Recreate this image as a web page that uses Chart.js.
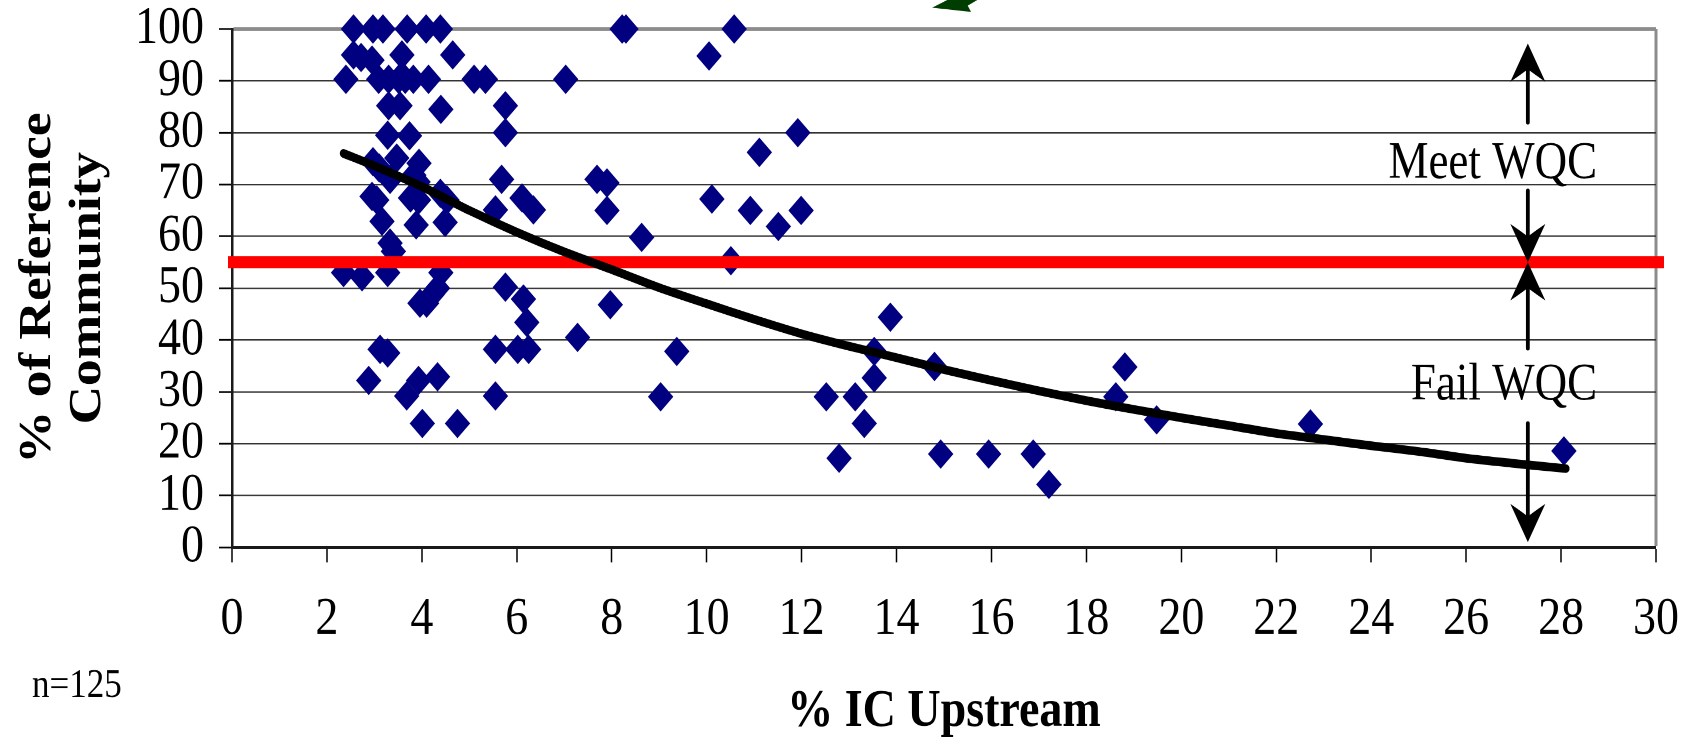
<!DOCTYPE html>
<html>
<head>
<meta charset="utf-8">
<script src="https://cdn.jsdelivr.net/npm/chart.js@4.4.1/dist/chart.umd.min.js"></script>
<style>
  html, body { margin: 0; padding: 0; background: #fff; overflow: hidden; }
  canvas { display: block; }
</style>
</head>
<body>
<canvas id="c" width="1687" height="639" style="width:1687px;height:741px;"></canvas>
<script>
// ---- data ----
const SCATTER_X = [
  2.56, 2.97, 3.18, 3.69, 4.09, 4.39, 8.22, 8.30, 10.58,
  2.56, 2.72, 2.95, 3.58, 4.65, 10.05,
  2.40, 3.09, 3.30, 3.51, 3.65, 3.82, 4.14, 5.10, 5.34, 7.03,
  3.30, 3.54, 4.40, 5.76,
  3.28, 3.74, 5.76, 11.92,
  11.11,
  2.97, 3.10, 3.47, 3.94, 3.83, 3.33, 3.92, 5.68, 7.69, 7.90,
  2.95, 3.05, 3.76, 3.93, 4.39, 4.53, 6.11, 10.11, 5.55, 6.35, 7.90, 10.92, 11.99,
  3.16, 3.88, 4.49, 11.51,
  8.63,
  3.33, 3.40,
  10.51,
  2.35, 2.74, 3.28, 4.40,
  4.33, 4.22, 4.10, 3.96, 5.76, 6.14, 7.97,
  6.21,
  7.28,
  3.12, 3.28, 5.55, 6.02, 6.25, 9.37, 13.53,
  13.87,
  2.88, 3.93, 4.33, 13.53, 14.80, 18.81,
  3.68, 5.55, 9.03, 12.52, 13.13, 18.62,
  4.01, 4.75, 13.32, 19.48, 22.72,
  12.79, 14.93, 15.94, 16.88, 28.06,
  17.21
];
const SCATTER_Y = [
  100, 100, 100, 100, 100, 100, 100, 100, 100,
  95, 94.5, 94, 95, 95, 94.8,
  90.3, 90.3, 90.3, 90.3, 90.3, 90.3, 90.3, 90.3, 90.3, 90.3,
  85.2, 85.2, 84.5, 85.2,
  79.5, 79.4, 80, 80,
  76.2,
  74.4, 73.2, 75.1, 74.1, 71.8, 71, 70.5, 71, 71, 70.3,
  67.7, 67.0, 67.4, 67.0, 68.3, 67.0, 67.4, 67.2, 65.1, 65.1, 65, 65, 65,
  62.9, 62.2, 62.7, 61.9,
  59.8,
  58.7, 57.1,
  55.3,
  53, 52.2, 53, 53,
  50, 48.8, 47.1, 47.1, 50.2, 47.9, 46.8,
  43.4,
  40.5,
  38.2, 37.5, 38.2, 38.2, 38.2, 37.8, 37.8,
  44.4,
  32.2, 32.2, 32.9, 32.7, 34.9, 34.8,
  29.2, 29.2, 29.05, 29.05, 29.05, 29.05,
  23.9, 23.9, 23.9, 24.6, 23.8,
  17.2, 18, 18, 18, 18.6,
  12.15
];
const TREND_X = [2.35, 3, 4, 5, 6, 7, 8, 9, 10, 11, 12, 13, 14, 15, 16, 17, 18, 19, 20, 21, 22, 23, 24, 25, 26, 27, 28.1];
const TREND_Y = [76.0, 73.6, 69.6, 65.0, 60.8, 57.0, 53.6, 50.1, 47.0, 44.0, 41.2, 38.8, 36.6, 34.3, 32.2, 30.2, 28.3, 26.6, 25.0, 23.5, 22.0, 20.8, 19.6, 18.5, 17.2, 16.2, 15.2];
const THRESHOLD = 55;               // red WQC line
const ARROW_X = 27.3;               // x position of the arrows
const ARROWS_FROM = [82, 68.8, 38.4, 23.9];
const ARROWS_TO   = [97.2, 55, 55, 1.0];
const LABEL_TEXT = ['Meet WQC', 'Fail WQC'];
const LABEL_X = 28.76;
const LABEL_Y = [71.3, 28.5];
const N_TEXT = 'n=125';
const X_TITLE = '% IC Upstream';
const Y_TITLE = ['% of Reference', 'Community'];
const GREEN_X = [14.75, 15.09, 15.72, 15.50, 15.57];
const GREEN_Y = [104.1, 105.7, 105.7, 104.5, 103.3];

const FONT = 'Liberation Serif, "Times New Roman", serif';

const scatterData = SCATTER_X.map((x, i) => ({ x: x, y: SCATTER_Y[i] }));
const trendData = TREND_X.map((x, i) => ({ x: x, y: TREND_Y[i] }));

function drawArrow(ctx, x, yFrom, yTo) {
  const dir = yTo < yFrom ? 1 : -1;   // 1 => arrow points up (towards smaller pixel y)
  const headLen = 33, half = 17.5, notch = 22;
  ctx.beginPath();
  ctx.moveTo(x, yFrom);
  ctx.lineTo(x, yTo + dir * notch);
  ctx.lineWidth = 3.8;
  ctx.strokeStyle = '#000';
  ctx.lineCap = 'round';
  ctx.stroke();
  ctx.beginPath();
  ctx.moveTo(x, yTo);
  ctx.lineTo(x - half, yTo + dir * headLen);
  ctx.quadraticCurveTo(x - 4, yTo + dir * (notch + 3), x, yTo + dir * notch);
  ctx.quadraticCurveTo(x + 4, yTo + dir * (notch + 3), x + half, yTo + dir * headLen);
  ctx.closePath();
  ctx.fillStyle = '#000';
  ctx.fill();
}

const annotations = {
  id: 'annotations',
  afterDatasetDraw(chart, args) {
    if (args.index !== 0) return;
    const ctx = chart.ctx, y = chart.scales.y.getPixelForValue(THRESHOLD);
    const area = chart.chartArea;
    ctx.save();
    ctx.beginPath();
    ctx.moveTo(area.left - 4, y);
    ctx.lineTo(area.right + 8, y);
    ctx.lineWidth = 10.3;
    ctx.strokeStyle = '#ff0000';
    ctx.lineCap = 'butt';
    ctx.stroke();
    ctx.restore();
  },
  afterDraw(chart) {
    const ctx = chart.ctx, xs = chart.scales.x, ys = chart.scales.y;
    ctx.save();
    // arrows
    const ax = xs.getPixelForValue(ARROW_X);
    for (let i = 0; i < ARROWS_FROM.length; i++) {
      drawArrow(ctx, ax, ys.getPixelForValue(ARROWS_FROM[i]), ys.getPixelForValue(ARROWS_TO[i]));
    }
    // labels
    ctx.fillStyle = '#000';
    ctx.font = '45px ' + FONT;
    ctx.textAlign = 'right';
    ctx.textBaseline = 'alphabetic';
    for (let i = 0; i < LABEL_TEXT.length; i++) {
      ctx.fillText(LABEL_TEXT[i], xs.getPixelForValue(LABEL_X), ys.getPixelForValue(LABEL_Y[i]));
    }
    // n=125
    ctx.textAlign = 'left';
    ctx.font = '35px ' + FONT;
    ctx.fillText(N_TEXT, 32, 601);
    // green fragment at the top
    ctx.beginPath();
    for (let i = 0; i < GREEN_X.length; i++) {
      const px = xs.getPixelForValue(GREEN_X[i]), py = ys.getPixelForValue(GREEN_Y[i]);
      if (i === 0) ctx.moveTo(px, py); else ctx.lineTo(px, py);
    }
    ctx.closePath();
    ctx.fillStyle = '#003d00';
    ctx.fill();
    ctx.restore();
  }
};

new Chart(document.getElementById('c'), {
  type: 'scatter',
  data: {
    datasets: [
      {
        label: 'Sites',
        data: scatterData,
        pointStyle: 'rectRot',
        pointRadius: 12,
        pointHoverRadius: 12,
        backgroundColor: '#000080',
        borderColor: '#000080',
        borderWidth: 1,
        clip: false,
        order: 2
      },
      {
        label: 'Trend',
        type: 'line',
        data: trendData,
        showLine: true,
        pointRadius: 0,
        borderColor: '#000',
        borderWidth: 7.5,
        borderCapStyle: 'round',
        borderJoinStyle: 'round',
        tension: 0.3,
        fill: false,
        clip: false,
        order: 1
      }
    ]
  },
  options: {
    responsive: false,
    devicePixelRatio: 2,
    animation: false,
    events: [],
    layout: { padding: { top: 25, right: 31, left: 0, bottom: 0 } },
    plugins: { legend: { display: false }, tooltip: { enabled: false } },
    scales: {
      x: {
        type: 'linear',
        min: 0, max: 30,
        ticks: {
          stepSize: 2, autoSkip: false, maxRotation: 0,
          color: '#000', padding: 22,
          font: { family: FONT, size: 46, lineHeight: 1.2 }
        },
        grid: {
          drawOnChartArea: true, drawTicks: true,
          color: (c) => (c.tick && c.tick.value === 30) ? '#8c8c8c' : 'rgba(0,0,0,0)',
          lineWidth: (c) => (c.tick && c.tick.value === 30) ? 3 : 0,
          tickLength: 13, tickColor: '#000', tickWidth: 1.5
        },
        border: { display: true, color: '#1a1a1a', width: 2.5 },
        title: {
          display: true, text: X_TITLE, color: '#000',
          font: { family: FONT, size: 46, weight: 'bold', lineHeight: 1 },
          padding: { top: 0, bottom: 2 }
        },
        afterFit: (s) => { s.height = 167; s.paddingLeft = 0; s.paddingRight = 0; }
      },
      y: {
        min: 0, max: 100,
        ticks: {
          stepSize: 10, autoSkip: false, color: '#000', padding: 15,
          font: { family: FONT, size: 46, lineHeight: 1 }
        },
        grid: {
          drawOnChartArea: true, drawTicks: true,
          color: (c) => c.tick.value === 100 ? '#8c8c8c' : (c.tick.value === 0 ? 'rgba(0,0,0,0)' : '#333'),
          lineWidth: (c) => c.tick.value === 100 ? 3 : 1.2,
          tickLength: 13, tickColor: '#000', tickWidth: 1.5
        },
        border: { display: true, color: '#1a1a1a', width: 2.5 },
        title: {
          display: true, text: Y_TITLE, color: '#000',
          font: { family: FONT, size: 46, weight: 'bold', lineHeight: 1.09 },
          padding: { top: 13, bottom: 0 }
        },
        afterFit: (s) => { s.width = 232; s.paddingTop = 0; s.paddingBottom = 0; }
      }
    }
  },
  plugins: [annotations]
});
</script>
</body>
</html>
